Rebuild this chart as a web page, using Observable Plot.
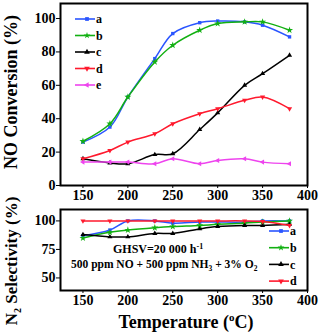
<!DOCTYPE html>
<html><head><meta charset="utf-8">
<script src="https://cdn.jsdelivr.net/npm/d3@7"></script>
<script src="https://cdn.jsdelivr.net/npm/@observablehq/plot@0.6"></script>
<style>
body{margin:0;background:#fff;}
#wrap{position:relative;width:319px;height:335px;overflow:hidden;font-family:"Liberation Serif",serif;font-weight:bold;}
#p1,#p2{position:absolute;left:0;}
#p1{top:0;} #p2{top:205px;}
svg{overflow:visible;}
</style></head><body>
<div id="wrap"><div id="p1"></div><div id="p2"></div></div>
<script>
const temps = [150,180,200,230,250,280,300,330,350,380];
const convA = [26,35,53,76,91,97.5,98.5,98,96,89];
const convB = [26.5,37,53,74,84,93,97,98,98,93];
const convC = [16,13.5,13,18.5,19,33.5,43.5,60,67,78];
const convD = [16,21,26,31,37,43,46,51,53,46];
const convE = [14,14,14,13,16,13,15,16,14,13];
const selA = [87,92,100,100,98,99,99,99,100,100];
const selB = [85,90,92,94,95,96,97,98,99,100];
const selC = [88,86,86,89,89,93,95,96,96,97];
const selD = [100,100,100,100,100,100,100,100,99.5,96];
const seriesNames = ["a","b","c","d","e"];
const colors = ["#2a55ff","#12b012","#000000","#ff1a2e","#ee44ee"];
const symbols = ["square","star","triangle","triangle","triangle"];
const rotations = [0,0,0,180,-90];
const xTicks = [150,200,250,300,350,400];
const yTicksTop = [0,20,40,60,80,100];
const yTicksBot = [50,75,100];

const conv = [convA,convB,convC,convD,convE];
const sel = [selA,selB,selC,selD];
const rowsTop = conv.flatMap((arr,i)=>arr.map((v,j)=>({s:seriesNames[i],i,t:temps[j],v})));
const rowsBot = sel.flatMap((arr,i)=>arr.map((v,j)=>({s:seriesNames[i],i,t:temps[j],v})));

function marksFor(rows, n){
  const m = [];
  for(let i=0;i<n;i++){
    const d = rows.filter(r=>r.i===i);
    m.push(Plot.line(d,{x:"t",y:"v",stroke:colors[i],strokeWidth:1.5,curve:"catmull-rom"}));
    m.push(Plot.dot(d,{x:"t",y:"v",fill:colors[i],stroke:"none",symbol:symbols[i],r:symbols[i]==="star"?2.2:1.9,rotate:rotations[i]}));
  }
  return m;
}
const font = {fontFamily:"Liberation Serif, serif",fontSize:"14px",fontWeight:"bold",color:"#000"};

const p1 = Plot.plot({
  width:319,height:205,marginLeft:60,marginRight:12,marginTop:3,marginBottom:20,
  style:font,
  x:{domain:[125,400]},
  y:{domain:[0,109]},
  marks:[
    ...marksFor(rowsTop,5),
    Plot.frame({stroke:"#000",strokeWidth:2}),
    Plot.axisX({ticks:xTicks,tickSize:3,tickPadding:2,label:null}),
    Plot.axisY({ticks:yTicksTop,tickSize:4,tickPadding:1,label:null})
  ]
});
document.getElementById("p1").appendChild(p1);

const p2 = Plot.plot({
  width:319,height:130,marginLeft:60,marginRight:12,marginTop:4,marginBottom:45,
  style:font,
  x:{domain:[125,400]},
  y:{domain:[39,110]},
  marks:[
    ...marksFor(rowsBot,4),
    Plot.frame({stroke:"#000",strokeWidth:2}),
    Plot.axisX({ticks:xTicks,tickSize:3,tickPadding:2,label:null}),
    Plot.axisY({ticks:yTicksBot,tickSize:4,tickPadding:1,label:null})
  ]
});
document.getElementById("p2").appendChild(p2);

const FF = "Liberation Serif, serif";
// legends
function legend(svg, names, n, x0, y0, dy){
  const g = d3.select(svg).append("g").attr("text-anchor","start");
  const types = {square:d3.symbolSquare,star:d3.symbolStar,triangle:d3.symbolTriangle};
  for(let i=0;i<n;i++){
    const y = y0+i*dy;
    g.append("line").attr("x1",x0).attr("x2",x0+20).attr("y1",y).attr("y2",y).attr("stroke",colors[i]).attr("stroke-width",1.6);
    g.append("path").attr("d",d3.symbol(types[symbols[i]],14)()).attr("fill",colors[i])
      .attr("transform",`translate(${x0+12},${y}) rotate(${rotations[i]})`);
    g.append("text").attr("x",x0+21).attr("y",y).attr("dy","0.35em").attr("font-size",12)
      .attr("font-weight","bold").attr("font-family",FF).text(names[i]);
  }
}
legend(p1, seriesNames, 5, 75, 19, 16.5);
legend(p2, seriesNames, 4, 269, 26, 16.7);

// annotations in bottom panel
const s2 = d3.select(p2);
const t1 = s2.append("text").attr("text-anchor","start").attr("x",113).attr("y",48).attr("font-size",12).attr("font-weight","bold").attr("font-family",FF);
t1.append("tspan").text("GHSV=20 000 h");
t1.append("tspan").attr("font-size",8).attr("dy",-4).text("-1");
const t2 = s2.append("text").attr("text-anchor","start").attr("x",71).attr("y",63).attr("font-size",11.5).attr("font-weight","bold").attr("font-family",FF);
t2.append("tspan").text("500 ppm NO + 500 ppm NH");
t2.append("tspan").attr("font-size",7.5).attr("dy",3).text("3");
t2.append("tspan").attr("dy",-3).text(" + 3% O");
t2.append("tspan").attr("font-size",7.5).attr("dy",3).text("2");

// x title
const tt = s2.append("text").attr("x",186).attr("y",123).attr("text-anchor","middle").attr("font-size",18).attr("font-weight","bold").attr("font-family",FF);
tt.append("tspan").text("Temperature (");
tt.append("tspan").attr("font-size",11).attr("dy",-7).text("o");
tt.append("tspan").attr("dy",7).text("C)");

// y titles
d3.select(p1).append("text").attr("transform","translate(17,92) rotate(-90)").attr("text-anchor","middle")
  .attr("font-size",18).attr("font-weight","bold").attr("font-family",FF).text("NO Conversion (%)");
const ys = s2.append("text").attr("transform","translate(17,56) rotate(-90)").attr("text-anchor","middle")
  .attr("font-size",17).attr("font-weight","bold").attr("font-family",FF);
ys.append("tspan").text("N");
ys.append("tspan").attr("font-size",10).attr("dy",4).text("2");
ys.append("tspan").attr("dy",-4).text(" Selectivity (%)");
</script></body></html>
